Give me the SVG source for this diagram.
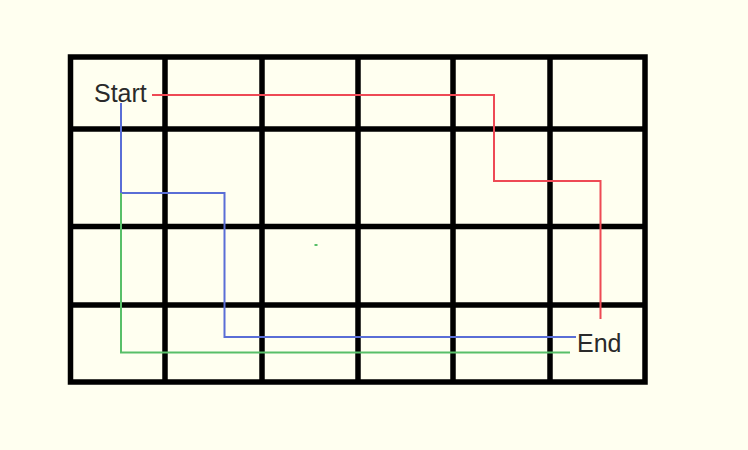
<svg xmlns="http://www.w3.org/2000/svg" width="748" height="450" viewBox="0 0 748 450">
<style>
.grid{stroke:#000;stroke-width:5.5;fill:none}
.lbl{font-family:"Liberation Sans",Arial,sans-serif;font-size:25px;fill:#2a2a2a}
.path{fill:none;stroke-width:2}
.red{stroke:#ee4a55}
.blue{stroke:#5a6ed6}
.green{stroke:#58bf68}
</style>
<rect width="748" height="450" fill="#fffff0"/>
<g id="grid" class="grid">
<rect x="70.5" y="57" width="574.5" height="325"/>
<line x1="165" y1="57" x2="165" y2="382"/>
<line x1="262" y1="57" x2="262" y2="382"/>
<line x1="358" y1="57" x2="358" y2="382"/>
<line x1="453" y1="57" x2="453" y2="382"/>
<line x1="550" y1="57" x2="550" y2="382"/>
<line x1="70.5" y1="129" x2="645" y2="129"/>
<line x1="70.5" y1="226.5" x2="645" y2="226.5"/>
<line x1="70.5" y1="305" x2="645" y2="305"/>
</g>
<g id="connectors">
<polyline class="path red" points="152,95 494,95 494,181 600.5,181 600.5,319"/>
<polyline class="path blue" points="121,103 121,193 224.5,193 224.5,337 576,337"/>
<polyline class="path green" points="121,193 121,352.5 570,352.5"/>
<rect x="314.5" y="244" width="3" height="2" fill="#58bf68"/>
</g>
<g id="start"><text class="lbl" x="94" y="101.5">Start</text></g>
<g id="end"><text class="lbl" x="577" y="351.5">End</text></g>
</svg>
